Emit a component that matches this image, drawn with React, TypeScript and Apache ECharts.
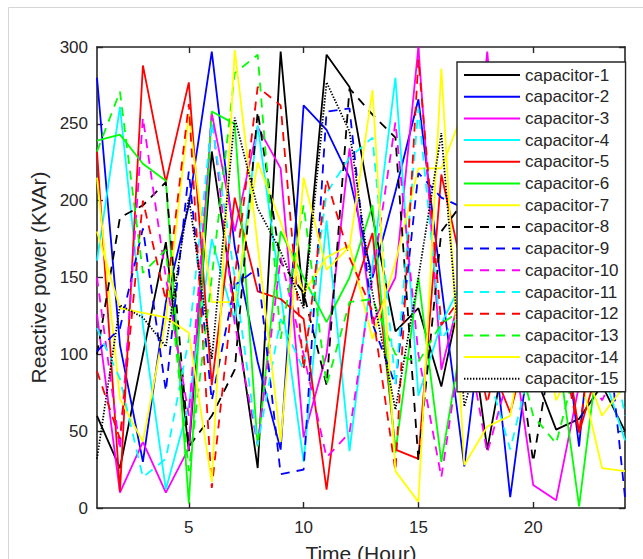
import React, { useEffect, useRef } from "react";
import * as echarts from "echarts";

const hours = [1, 2, 3, 4, 5, 6, 7, 8, 9, 10, 11, 12, 13, 14, 15, 16, 17, 18, 19, 20, 21, 22, 23, 24];
const xTicks = [5, 10, 15, 20];

const cap1 = [60, 26, 100, 173, 37, 232, 130, 26, 297, 132, 295, 274, 190, 115, 130, 79, 150, 38, 120, 90, 51, 58, 80, 50];
const cap2 = [280, 106, 30, 134, 197, 297, 170, 95, 38, 262, 246, 215, 150, 206, 266, 145, 27, 150, 7, 120, 160, 40, 200, 100];
const cap3 = [126, 10, 43, 10, 39, 257, 180, 248, 221, 46, 100, 234, 120, 150, 300, 90, 150, 297, 120, 15, 5, 80, 100, 90];
const cap4 = [161, 261, 119, 12, 67, 175, 121, 249, 140, 30, 187, 37, 158, 280, 73, 120, 150, 90, 100, 120, 100, 80, 90, 44];
const cap5 = [232, 11, 288, 212, 277, 80, 202, 141, 136, 123, 12, 132, 179, 38, 32, 217, 150, 100, 62, 120, 150, 49, 100, 130];
const cap6 = [239, 243, 224, 213, 3, 258, 250, 40, 180, 150, 121, 150, 197, 36, 150, 30, 120, 150, 90, 130, 110, 1, 120, 100];
const cap7 = [215, 71, 43, 123, 256, 134, 134, 225, 186, 140, 163, 171, 110, 160, 221, 221, 260, 120, 100, 140, 120, 90, 26, 24];
const cap8 = [100, 189, 197, 212, 40, 60, 90, 258, 160, 140, 80, 273, 256, 241, 31, 180, 200, 150, 140, 30, 120, 150, 100, 90];
const cap9 = [102, 117, 182, 76, 219, 70, 145, 156, 22, 25, 258, 260, 120, 80, 218, 202, 195, 150, 120, 100, 180, 100, 150, 7];
const cap10 = [150, 38, 254, 150, 60, 256, 120, 41, 163, 100, 33, 49, 150, 251, 100, 20, 120, 36, 90, 120, 80, 100, 70, 100];
const cap11 = [117, 84, 20, 32, 110, 251, 150, 41, 123, 90, 205, 228, 241, 80, 260, 110, 130, 90, 38, 100, 120, 90, 140, 60];
const cap12 = [89, 45, 200, 135, 263, 13, 150, 274, 262, 90, 214, 163, 128, 24, 292, 119, 140, 68, 140, 150, 120, 49, 160, 120];
const cap13 = [232, 271, 153, 168, 24, 150, 283, 295, 110, 197, 80, 134, 136, 100, 95, 120, 130, 80, 120, 60, 42, 100, 90, 110];
const cap14 = [180, 130, 127, 124, 114, 17, 298, 171, 43, 215, 155, 170, 272, 24, 4, 286, 28, 53, 60, 150, 70, 100, 60, 80];
const cap15 = [32, 132, 124, 105, 202, 97, 254, 195, 167, 130, 277, 245, 140, 64, 150, 244, 66, 120, 100, 90, 140, 110, 80, 120];

const seriesNames = [
  "capacitor-1", "capacitor-2", "capacitor-3", "capacitor-4", "capacitor-5",
  "capacitor-6", "capacitor-7", "capacitor-8", "capacitor-9", "capacitor-10",
  "capacitor-11", "capacitor-12", "capacitor-13", "capacitor-14", "capacitor-15",
];
const seriesValues = [cap1, cap2, cap3, cap4, cap5, cap6, cap7, cap8, cap9, cap10, cap11, cap12, cap13, cap14, cap15];
const seriesColors = [
  "#000000", "#0000ff", "#ff00ff", "#00ffff", "#ff0000", "#00ff00", "#ffff00",
  "#000000", "#0000ff", "#ff00ff", "#00ffff", "#ff0000", "#00ff00", "#ffff00", "#000000",
];
const seriesDash: (string | number[])[] = [
  "solid", "solid", "solid", "solid", "solid", "solid", "solid",
  [9, 7], [9, 7], [9, 7], [9, 7], [9, 7], [9, 7], "solid", [1.4, 1.6],
];

const FONT = "'Liberation Sans', Arial, Helvetica, sans-serif";
const AX = "#262626";

export default function App() {
  const ref = useRef<HTMLDivElement>(null);
  useEffect(() => {
    if (!ref.current) return;
    const chart = echarts.init(ref.current, undefined, { renderer: "svg" });
    const axisLine = { show: true, onZero: false, lineStyle: { color: AX, width: 1.6 } };
    const tick = { show: true, inside: true, length: 6, lineStyle: { color: AX, width: 1.4 } };
    chart.setOption({
      animation: false,
      backgroundColor: "#ffffff",
      textStyle: { fontFamily: FONT },
      graphic: [
        {
          type: "rect",
          shape: { x: 8.5, y: 7.5, width: 700, height: 700 },
          style: { fill: "none", stroke: "#d6d6d6", lineWidth: 1 },
          silent: true,
          z: -10,
        },
      ],
      grid: { left: 97, right: 18, top: 47, bottom: 51, containLabel: false, outerBoundsMode: "none" },
      xAxis: [
        {
          type: "value", min: 1, max: 24, position: "bottom",
          axisLine,
          axisTick: { ...tick, customValues: xTicks },
          axisLabel: { customValues: xTicks, fontSize: 17, color: AX, margin: 11, fontFamily: FONT },
          splitLine: { show: false },
          name: "Time (Hour)", nameLocation: "middle", nameGap: 35,
          nameTextStyle: { fontSize: 21, color: AX, fontFamily: FONT },
        },
        {
          type: "value", min: 1, max: 24, position: "top",
          axisLine,
          axisTick: { ...tick, customValues: xTicks },
          axisLabel: { show: false },
          splitLine: { show: false },
        },
      ],
      yAxis: [
        {
          type: "value", min: 0, max: 300, interval: 50, position: "left",
          axisLine,
          axisTick: tick,
          axisLabel: { fontSize: 17, color: AX, margin: 9, fontFamily: FONT },
          splitLine: { show: false },
          name: "Reactive power (KVAr)", nameLocation: "middle", nameGap: 46,
          nameTextStyle: { fontSize: 21, color: AX, fontFamily: FONT },
        },
        {
          type: "value", min: 0, max: 300, interval: 50, position: "right",
          axisLine,
          axisTick: tick,
          axisLabel: { show: false },
          splitLine: { show: false },
        },
      ],
      legend: {
        orient: "vertical", left: 457, top: 62,
        padding: [4.5, 7, 4.5, 6],
        itemWidth: 56, itemHeight: 17, itemGap: 4.7,
        backgroundColor: "#ffffff", borderColor: AX, borderWidth: 1.4,
        textStyle: { fontSize: 17, color: AX, fontFamily: FONT },
        itemStyle: { opacity: 0 },
        data: seriesNames,
      },
      series: seriesNames.map((name, i) => ({
        name,
        type: "line",
        xAxisIndex: 0,
        yAxisIndex: 0,
        data: hours.map((h, j) => [h, seriesValues[i][j]]),
        showSymbol: false,
        symbol: "none",
        color: seriesColors[i],
        lineStyle: { color: seriesColors[i], width: 1.8, type: seriesDash[i] },
        itemStyle: { color: seriesColors[i] },
        emphasis: { disabled: true },
      })),
    });
    return () => chart.dispose();
  }, []);
  return (
    <div
      ref={ref}
      style={{ position: "absolute", left: 0, top: 0, width: 643, height: 559, background: "#fff" }}
    />
  );
}
